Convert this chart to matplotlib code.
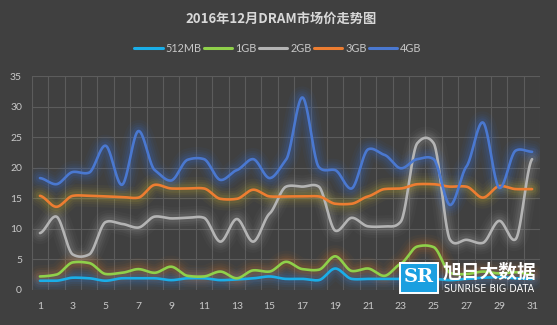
"""DRAM spot price trend, December 2016."""

import matplotlib.pyplot as plt
import numpy as np
from matplotlib.patches import Rectangle

plt.rcParams["font.family"] = ["Lato", "Noto Sans CJK SC", "DejaVu Sans"]

days = list(range(1, 32))
x_labels = [str(d) for d in range(1, 32, 2)]

price_512mb = [1.5, 1.5, 2.0, 1.9, 1.5, 1.9, 1.9, 1.9, 1.6, 1.9,
               1.9, 1.6, 1.7, 1.9, 2.2, 1.8, 1.8, 1.6, 3.5, 1.8,
               1.8, 1.8, 1.8, 1.8, 1.8, 1.6, 1.8, 2.0, 2.1, 1.9, 1.8]
price_1gb = [2.2, 2.5, 4.5, 4.4, 2.6, 2.8, 3.4, 2.8, 3.8, 2.3,
             2.2, 3.0, 1.9, 3.2, 3.0, 4.6, 3.4, 3.3, 5.5, 3.1,
             3.5, 2.3, 4.3, 7.1, 7.0, 2.8, 2.6, 3.0, 2.7, 2.9, 2.5]
price_2gb = [9.3, 12.0, 5.8, 5.8, 11.1, 10.8, 10.2, 12.0, 11.7, 11.8,
             11.8, 7.9, 11.6, 7.9, 12.5, 16.9, 16.9, 16.9, 9.7, 11.8,
             10.4, 10.4, 11.2, 24.0, 24.0, 8.2, 8.2, 7.7, 11.3, 8.3, 21.4]
price_3gb = [15.4, 13.6, 15.4, 15.4, 15.3, 15.2, 15.1, 17.2, 16.6, 16.6,
             16.6, 14.9, 14.9, 16.4, 15.3, 15.3, 15.3, 15.3, 14.1, 14.1,
             15.3, 16.5, 16.6, 17.3, 17.3, 16.9, 16.9, 15.1, 17.0, 16.5, 16.5]
price_4gb = [18.3, 17.3, 19.3, 19.2, 23.6, 17.2, 26.0, 19.6, 17.9, 21.3,
             21.4, 18.0, 19.6, 21.4, 18.3, 21.3, 31.5, 20.1, 19.6, 16.6,
             23.0, 22.1, 19.9, 21.4, 21.4, 13.9, 20.2, 27.4, 16.7, 22.8, 22.6]

series_names = ["512MB", "1GB", "2GB", "3GB", "4GB"]
series_values = [price_512mb, price_1gb, price_2gb, price_3gb, price_4gb]
line_colors = ["#1aaee8", "#8fd04a", "#b4b4b4", "#ed7d31", "#4a78d0"]
glow_colors = ["#3a80d8", "#c8702a", "#9a9a9a", "#b8a832", "#3a6ed0"]

BG = "#404040"
TEXT = "#c8c8c8"


def smooth(xs, ys, steps=24, tension=0.5):
    """Cubic Hermite curve through the points with damped Catmull-Rom slopes."""
    xs = np.asarray(xs, float)
    ys = np.asarray(ys, float)
    py = np.concatenate([[ys[0]], ys, [ys[-1]]])
    out_x, out_y = [], []
    t = np.linspace(0, 1, steps, endpoint=False)
    h00 = 2 * t**3 - 3 * t**2 + 1
    h10 = t**3 - 2 * t**2 + t
    h01 = -2 * t**3 + 3 * t**2
    h11 = t**3 - t**2
    for i in range(1, len(py) - 2):
        m0 = tension * (py[i + 1] - py[i - 1]) / 2
        m1 = tension * (py[i + 2] - py[i]) / 2
        x0, x1 = xs[i - 1], xs[i]
        out_x.append(x0 + t * (x1 - x0))
        out_y.append(h00 * py[i] + h10 * m0 + h01 * py[i + 1] + h11 * m1)
    out_x.append([xs[-1]])
    out_y.append([ys[-1]])
    return np.concatenate(out_x), np.concatenate(out_y)


fig = plt.figure(figsize=(5.57, 3.25), dpi=100, facecolor=BG)
ax = fig.add_axes([0.057, 0.108, 0.913, 0.658], facecolor=BG)

handles = []
for name, vals, lc, gc in zip(series_names, series_values, line_colors, glow_colors):
    sx, sy = smooth(days, vals)
    for lw, a in [(16, 0.05), (12, 0.07), (9, 0.09), (6, 0.13)]:
        ax.plot(sx, sy, color=gc, lw=lw, alpha=a, solid_capstyle="round",
                solid_joinstyle="round", zorder=2)
    (h,) = ax.plot(sx, sy, color=lc, lw=1.9, solid_capstyle="round", zorder=3,
                   label=name)
    handles.append(h)

ax.set_xlim(0.5, 31.5)
ax.set_ylim(0, 35)
ax.set_yticks(range(0, 36, 5))
ax.set_xticks(range(1, 32, 2))
ax.set_xticklabels(x_labels)
ax.set_xticks(np.arange(0.5, 32, 1), minor=True)
ax.grid(True, which="minor", axis="x", color="#5c5c5c", lw=0.8, zorder=1)
ax.grid(True, which="major", axis="y", color="#5c5c5c", lw=0.8, zorder=1)
ax.tick_params(which="both", length=0, colors=TEXT, labelsize=7.5)
ax.tick_params(axis="x", pad=9)
ax.tick_params(axis="y", pad=7)
for spine in ax.spines.values():
    spine.set_visible(False)

fig.text(0.505, 0.942, "2016年12月DRAM市场价走势图", ha="center", va="center",
         fontsize=9.5, fontweight="bold", color="#d8d8d8",
         family=["Noto Sans CJK SC", "DejaVu Sans"])

leg = fig.legend(handles=handles, loc="center", bbox_to_anchor=(0.499, 0.852),
                 ncol=5, frameon=False, fontsize=7.8, handlelength=2.6,
                 handletextpad=0.3, columnspacing=0.2, labelcolor=TEXT)
for line in leg.get_lines():
    line.set_linewidth(2.2)

# watermark logo in the lower right corner
fig.patches.append(Rectangle((0.718, 0.100), 0.068, 0.092, transform=fig.transFigure,
                             facecolor="#1a9fe0", edgecolor="white", lw=1.4, zorder=10))
fig.text(0.752, 0.147, "SR", ha="center", va="center", fontsize=14,
         fontweight="bold", color="white", family="DejaVu Serif", zorder=11)
fig.text(0.794, 0.163, "旭日大数据", ha="left", va="center", fontsize=13.5,
         fontweight="bold", color="white", family=["Noto Sans CJK SC"], zorder=11)
fig.text(0.797, 0.112, "SUNRISE BIG DATA", ha="left", va="center", fontsize=6.9,
         color="white", family="DejaVu Sans", zorder=11)

fig.savefig("out.png", dpi=100, facecolor=BG)
